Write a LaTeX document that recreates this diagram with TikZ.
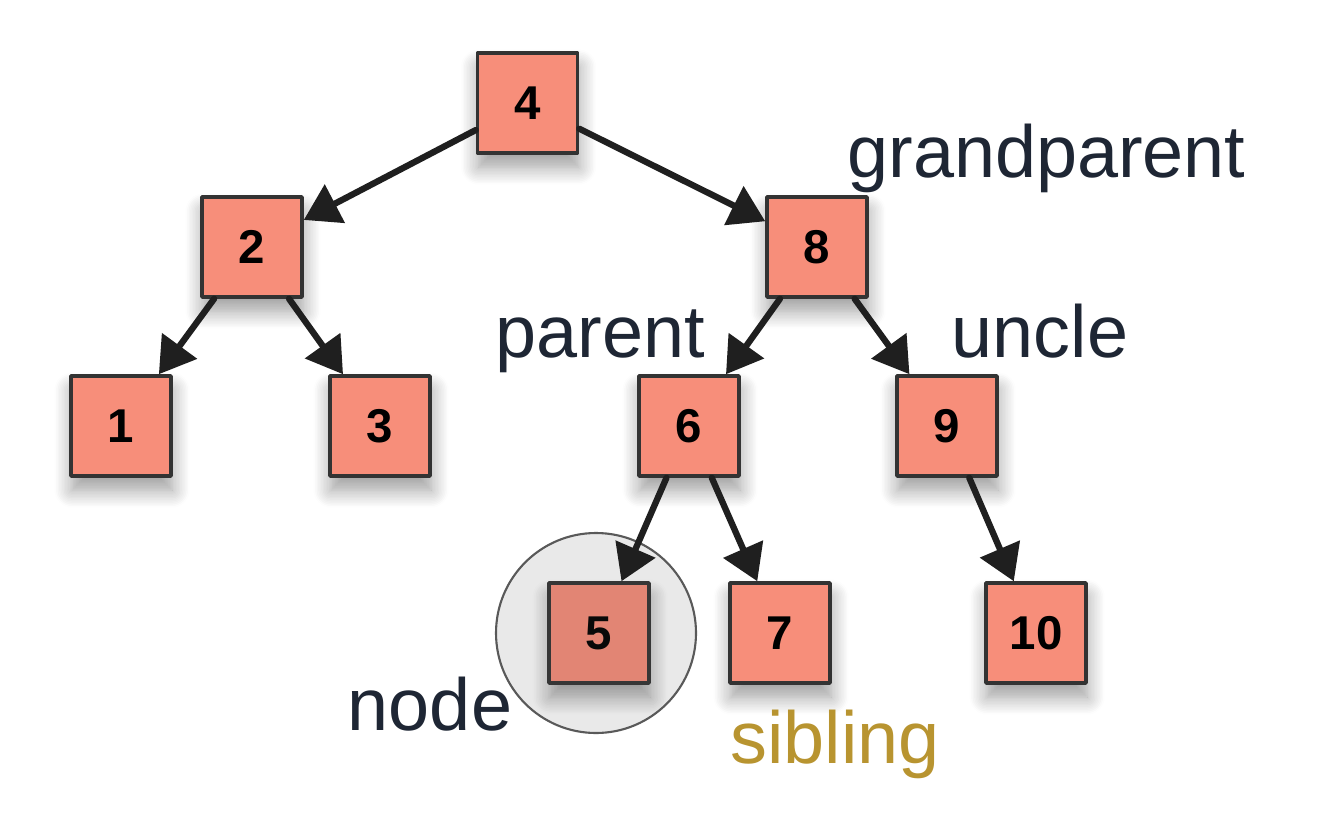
\documentclass[tikz,border=0pt]{standalone}
\usepackage{fontspec}
\setmainfont{Liberation Sans}
\usetikzlibrary{arrows.meta,shadows.blur}
\definecolor{boxfill}{RGB}{247,142,122}
\definecolor{labelcol}{RGB}{30,38,52}
\definecolor{siblingcol}{RGB}{184,148,48}

\begin{document}
\begin{tikzpicture}[line cap=round,line join=round,>={Triangle[length=10pt,width=12pt]},x=1.0cm,y=1.0cm,
		treebox/.style={draw=black!80,line width=1pt,fill=boxfill,minimum size=1cm,inner sep=0pt,
			font=\fontsize{13.5}{16}\selectfont\bfseries,
			blur shadow={shadow xshift=0.3pt,shadow yshift=-4pt,shadow blur radius=5pt,shadow blur steps=12,shadow opacity=40}},
		tag/.style={text=labelcol,font=\fontsize{21}{25}\selectfont,anchor=base,inner sep=0pt},
		link/.style={->,line width=1.8pt,draw=black!88}]
		\useasboundingbox (0.,0.) rectangle (13.17,8.25);
		% boxes
		\node[treebox] (n4) at (5.275,7.22) {4};
		\node[treebox] (n2) at (2.52,5.78) {2};
		\node[treebox] (n8) at (8.17,5.78) {8};
		\node[treebox] (n1) at (1.21,3.99) {1};
		\node[treebox] (n3) at (3.80,3.99) {3};
		\node[treebox] (n6) at (6.89,3.99) {6};
		\node[treebox] (n9) at (9.47,3.99) {9};
		\node[treebox] (n5) at (5.99,1.92) {5};
		\node[treebox] (n7) at (7.80,1.92) {7};
		\node[treebox] (n10) at (10.36,1.92) {10};
		% highlight ring
		\node[circle,draw=black!65,line width=0.6pt,fill=black!70,fill opacity=0.12,draw opacity=1,minimum size=2cm] (ring) at (5.96,1.92) {};
		% links
		\draw[link] (n4) -- (n2);
		\draw[link] (n4) -- (n8);
		\draw[link] (n2) -- (n1);
		\draw[link] (n2) -- (n3);
		\draw[link] (n8) -- (n6);
		\draw[link] (n8) -- (n9);
		\draw[link] (n6) -- (n5);
		\draw[link] (n6) -- (n7);
		\draw[link] (n9) -- (n10);
		% labels
		\node[tag] (grandlbl) at (10.465,6.48) {grandparent};
		\node[tag] (parentlbl) at (6.00,4.68) {parent};
		\node[tag] (unclelbl) at (10.40,4.68) {uncle};
		\node[tag] (nodelbl) at (4.30,0.95) {node};
		\node[tag,text=siblingcol] (siblinglbl) at (8.35,0.62) {sibling};
	\end{tikzpicture}
\end{document}
